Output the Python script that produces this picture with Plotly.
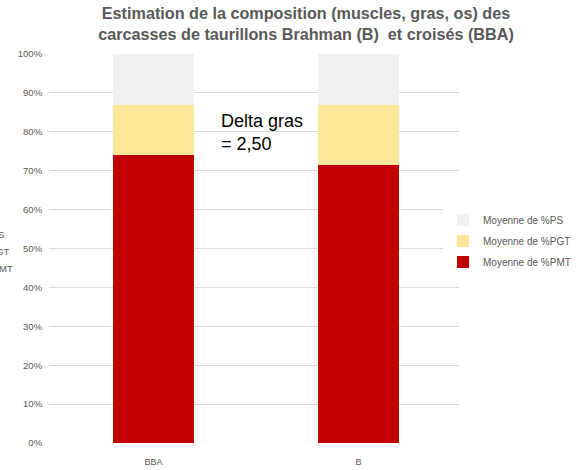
import plotly.graph_objects as go

categories = ["BBA", "B"]
pmt = [74.0, 71.5]
pgt = [12.9, 15.4]
ps = [13.1, 13.1]
series_names = ["Moyenne de %PMT", "Moyenne de %PGT", "Moyenne de %PS"]
series_colors = ["#C00000", "#FFE699", "#F2F2F2"]
ytick_vals = [0, 10, 20, 30, 40, 50, 60, 70, 80, 90, 100]
ytick_text = [f"{v}%" for v in ytick_vals]

W, H = 586, 470
L, R, T, B = 49, 127, 54, 27

fig = go.Figure()
for i, (name, vals, col) in enumerate(zip(series_names, [pmt, pgt, ps], series_colors)):
    fig.add_trace(go.Bar(x=categories, y=vals, name=name, legendgroup=f"g{i}", legendrank=10 - i,
                         marker=dict(color=col, line=dict(width=0))))

def px_x(p):
    return (p - L) / (W - L - R)

def px_y(p):
    return (H - B - p) / (H - T - B)

fig.update_layout(
    barmode="stack",
    bargap=0.605,
    width=W, height=H,
    margin=dict(l=L, r=R, t=T, b=B, autoexpand=False),
    paper_bgcolor="white", plot_bgcolor="white",
    font=dict(family="Liberation Sans, Arial, sans-serif", color="#595959", size=10),
    title=dict(
        text="<b>Estimation de la composition (muscles, gras, os) des<br>carcasses de taurillons Brahman (B)  et croisés (BBA)</b>",
        x=306 / W, xanchor="center", y=1 - 19 / H, yanchor="top", pad=dict(t=0, b=0),
        font=dict(size=16.2, color="#595959", family="Liberation Sans, Arial, sans-serif"),
    ),
    xaxis=dict(range=[-0.51, 1.49], showgrid=False, showline=False, ticks="outside", ticklen=10,
               automargin=False, tickcolor="rgba(0,0,0,0)", tickfont=dict(size=9, color="#595959")),
    yaxis=dict(range=[0, 100], tickvals=ytick_vals, ticktext=ytick_text, showgrid=True, automargin=False,
               gridcolor="#D9D9D9", gridwidth=1, zeroline=False, showline=False,
               tickfont=dict(size=9.5, color="#595959"), ticklen=4, ticks="outside",
               tickcolor="rgba(0,0,0,0)"),
    legend=dict(x=px_x(443), xanchor="left", y=px_y(241), yanchor="middle",
                traceorder="grouped",
                font=dict(size=10, color="#595959"), itemwidth=30, tracegroupgap=2),
    showlegend=True,
)

fig.add_annotation(text="Delta gras<br>= 2,50", xref="paper", yref="paper", x=px_x(219), y=px_y(109),
                   xanchor="left", yanchor="top", align="left", showarrow=False,
                   font=dict(size=18, color="#000000", family="Liberation Sans, Arial, sans-serif"))

for txt, pxr, py in [("S", 6, 234), ("GT", 11, 251), ("MT", 15, 268)]:
    fig.add_annotation(text=txt, xref="paper", yref="paper", x=px_x(pxr), y=px_y(py),
                       xanchor="right", yanchor="middle", showarrow=False,
                       font=dict(size=9.5, color="#595959"))

fig.write_html("out.html", config={"displayModeBar": False},
               post_script="document.body.style.margin='0';")
